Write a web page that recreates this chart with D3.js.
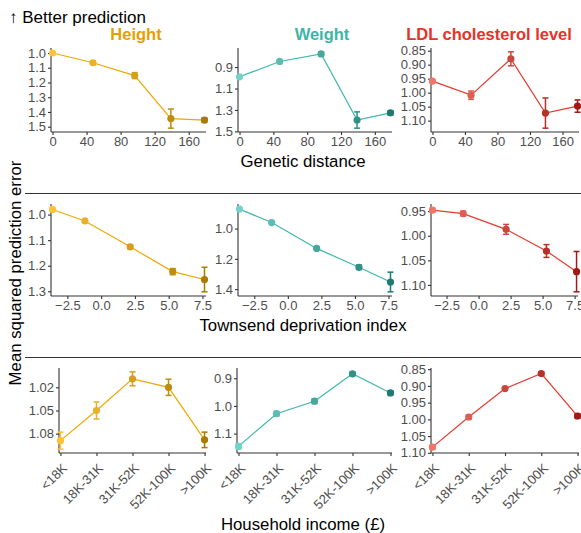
<!DOCTYPE html>
<html><head><meta charset="utf-8">
<script src="https://cdn.jsdelivr.net/npm/d3@7"></script>
<style>body{margin:0;background:#fff}svg{display:block}text{font-family:"Liberation Sans",Arial,Helvetica,sans-serif}</style>
</head><body>
<svg id="chart" width="581" height="533"></svg>
<script>
// ---------- data ----------
const traits = ["Height", "Weight", "LDL cholesterol level"];

const geneticDistance = [0, 47.5, 96.5, 139, 178.5];
const heightGenetic = [1.0, 1.066, 1.153, 1.445, 1.455];
const heightGeneticErr = [0.008, 0.012, 0.02, 0.065, 0.015];
const weightGenetic = [0.991, 0.848, 0.778, 1.394, 1.327];
const weightGeneticErr = [0.01, 0.01, 0.02, 0.076, 0.02];
const ldlGenetic = [0.959, 1.009, 0.879, 1.073, 1.048];
const ldlGeneticErr = [0.004, 0.015, 0.025, 0.054, 0.022];

const townsend = [-3.6, -1.2, 2.15, 5.3, 7.65];
const heightTownsend = [0.98, 1.025, 1.126, 1.223, 1.254];
const heightTownsendErr = [0.005, 0.006, 0.008, 0.012, 0.048];
const weightTownsend = [0.871, 0.96, 1.131, 1.256, 1.353];
const weightTownsendErr = [0.006, 0.006, 0.007, 0.015, 0.065];
const ldlTownsend = [0.948, 0.955, 0.987, 1.031, 1.073];
const ldlTownsendErr = [0.004, 0.005, 0.01, 0.013, 0.041];

const income = ["<18K", "18K-31K", "31K-52K", "52K-100K", ">100K"];
const heightIncome = [1.089, 1.05, 1.009, 1.02, 1.088];
const heightIncomeErr = [0.011, 0.011, 0.009, 0.0105, 0.01];
const weightIncome = [1.146, 1.028, 0.983, 0.884, 0.953];
const weightIncomeErr = [0.01, 0.008, 0.008, 0.007, 0.007];
const ldlIncome = [1.083, 0.993, 0.908, 0.863, 0.99];
const ldlIncomeErr = [0.006, 0.006, 0.005, 0.005, 0.007];

const geneticTicks = [0, 40, 80, 120, 160];
const townsendTicks = [-2.5, 0, 2.5, 5, 7.5];
const yTicksGenetic = [[1.0, 1.1, 1.2, 1.3, 1.4, 1.5], [0.9, 1.1, 1.3, 1.5], [0.85, 0.90, 0.95, 1.00, 1.05, 1.10]];
const yTicksTownsend = [[1.0, 1.1, 1.2, 1.3], [1.0, 1.2, 1.4], [0.95, 1.00, 1.05, 1.10]];
const yTicksIncome = [[1.02, 1.05, 1.08], [0.9, 1.0, 1.1], [0.85, 0.90, 0.95, 1.00, 1.05, 1.10]];
const yFormats = [[".1f", ".1f", ".2f"], [".1f", ".1f", ".2f"], [".2f", ".1f", ".2f"]];

// ---------- style ----------
const titleColors = ["#E69F00", "#3DB5A8", "#E3342A"];
const lineColors = ["#EFA800", "#3DB9AD", "#E8392D"];
const lightColors = ["#FFC23A", "#72D3C8", "#F27468"];
const darkColors = ["#A67B00", "#1E7A70", "#9E1A12"];

const svg = d3.select("#chart");
const cols = [
  {top: [51, 206], mid: [51, 206], bot: [59, 206]},
  {top: [238, 392], mid: [238, 392], bot: [237, 392]},
  {top: [431, 579], mid: [431, 578], bot: [431, 579]}
];
const rows = [[48, 132], [204, 296], [368, 453]];

function yDomain(v, e) {
  const lo = d3.min(v, (d, i) => d - e[i]), hi = d3.max(v, (d, i) => d + e[i]);
  const p = (hi - lo) * 0.05;
  return [lo - p, hi + p];
}
function xDomain(v) {
  const [lo, hi] = d3.extent(v); const p = (hi - lo) * 0.01;
  return [lo - p, hi + p];
}

function panel(rowIdx, colIdx, xs, vals, errs, yTicks, xKind) {
  const key = ["top", "mid", "bot"][rowIdx];
  const [x0, x1] = cols[colIdx][key];
  const [y0, y1] = rows[rowIdx];
  let x;
  if (xKind === "band") {
    const n = xs.length - 1, pad = n * 0.01, step = (x1 - x0) / (n + 2 * pad);
    x = d3.scalePoint().domain(xs).range([x0 + pad * step, x1 - pad * step]);
  } else {
    x = d3.scaleLinear().domain(xDomain(xs)).range([x0, x1]);
  }
  const y = d3.scaleLinear().domain(yDomain(vals, errs)).range([y0, y1]);
  const g = svg.append("g");
  const col = d3.interpolateRgb(lightColors[colIdx], darkColors[colIdx]);
  const data = xs.map((d, i) => ({x: d, v: vals[i], e: errs[i], c: col(i / (xs.length - 1))}));

  // axes
  const yAxis = d3.axisLeft(y).tickValues(yTicks).tickFormat(d3.format(yFormats[rowIdx][colIdx])).tickSize(3).tickPadding(2);
  const ya = g.append("g").attr("transform", `translate(${x0},0)`).call(yAxis);
  let xAxis;
  if (xKind === "band") xAxis = d3.axisBottom(x).tickSize(3).tickPadding(2);
  else xAxis = d3.axisBottom(x).tickValues(xKind === "gen" ? geneticTicks : townsendTicks)
      .tickFormat(xKind === "gen" ? d3.format("d") : d3.format(".1f")).tickSize(3).tickPadding(2);
  const xa = g.append("g").attr("transform", `translate(0,${y1})`).call(xAxis);
  [ya, xa].forEach(a => {
    a.select(".domain").attr("stroke", "#333").attr("stroke-width", 1.1);
    a.selectAll(".tick line").attr("stroke", "#333").attr("stroke-width", 1.1);
    a.selectAll(".tick text").attr("fill", "#4D4D4D").style("font-size", "13px");
  });
  ya.select(".domain").attr("d", `M0,${y0}V${y1}`);
  xa.select(".domain").attr("d", `M${x0},0H${x1}`);
  if (xKind === "band") {
    xa.selectAll(".tick text").attr("text-anchor", "end").attr("dy", null).attr("y", null)
      .attr("transform", "translate(7,16) rotate(-45)");
  }

  // line
  g.append("path").datum(data).attr("fill", "none").attr("stroke", lineColors[colIdx]).attr("stroke-width", 1.2)
    .attr("d", d3.line().x(d => x(d.x)).y(d => y(d.v)));
  // error bars
  const eb = g.selectAll(".eb").data(data).join("g").attr("stroke", d => d.c).attr("stroke-width", 1.5);
  eb.append("line").attr("x1", d => x(d.x)).attr("x2", d => x(d.x)).attr("y1", d => y(d.v - d.e)).attr("y2", d => y(d.v + d.e));
  eb.append("line").attr("x1", d => x(d.x) - 3).attr("x2", d => x(d.x) + 3).attr("y1", d => y(d.v - d.e)).attr("y2", d => y(d.v - d.e));
  eb.append("line").attr("x1", d => x(d.x) - 3).attr("x2", d => x(d.x) + 3).attr("y1", d => y(d.v + d.e)).attr("y2", d => y(d.v + d.e));
  // points
  g.selectAll(".pt").data(data).join("circle").attr("cx", d => x(d.x)).attr("cy", d => y(d.v)).attr("r", 3.6).attr("fill", d => d.c);
}

const genVals = [heightGenetic, weightGenetic, ldlGenetic], genErr = [heightGeneticErr, weightGeneticErr, ldlGeneticErr];
const townVals = [heightTownsend, weightTownsend, ldlTownsend], townErr = [heightTownsendErr, weightTownsendErr, ldlTownsendErr];
const incVals = [heightIncome, weightIncome, ldlIncome], incErr = [heightIncomeErr, weightIncomeErr, ldlIncomeErr];
for (let c = 0; c < 3; c++) {
  panel(0, c, geneticDistance, genVals[c], genErr[c], yTicksGenetic[c], "gen");
  panel(1, c, townsend, townVals[c], townErr[c], yTicksTownsend[c], "town");
  panel(2, c, income, incVals[c], incErr[c], yTicksIncome[c], "band");
}

// titles
const titleX = [136, 322, 489];
traits.forEach((t, i) => svg.append("text").attr("x", titleX[i]).attr("y", 40).attr("text-anchor", "middle")
  .attr("fill", titleColors[i]).style("font-size", "16.5px").style("font-weight", "bold").text(t));
svg.append("text").attr("x", 9).attr("y", 23).style("font-size", "17px").attr("fill", "#000").text("↑ Better prediction");

// axis titles
const axisTitle = (txt, y) => svg.append("text").attr("x", 303).attr("y", y).attr("text-anchor", "middle")
  .style("font-size", "16.8px").attr("fill", "#000").text(txt);
axisTitle("Genetic distance", 167);
axisTitle("Townsend deprivation index", 331);
axisTitle("Household income (£)", 530);
svg.append("text").attr("transform", "translate(21,273) rotate(-90)").attr("text-anchor", "middle")
  .style("font-size", "16.8px").attr("fill", "#000").text("Mean squared prediction error");

// separators
[193.5, 357.5].forEach(yy => svg.append("line").attr("x1", 25).attr("x2", 581).attr("y1", yy).attr("y2", yy)
  .attr("stroke", "#333").attr("stroke-width", 1.1));
</script>
</body></html>
